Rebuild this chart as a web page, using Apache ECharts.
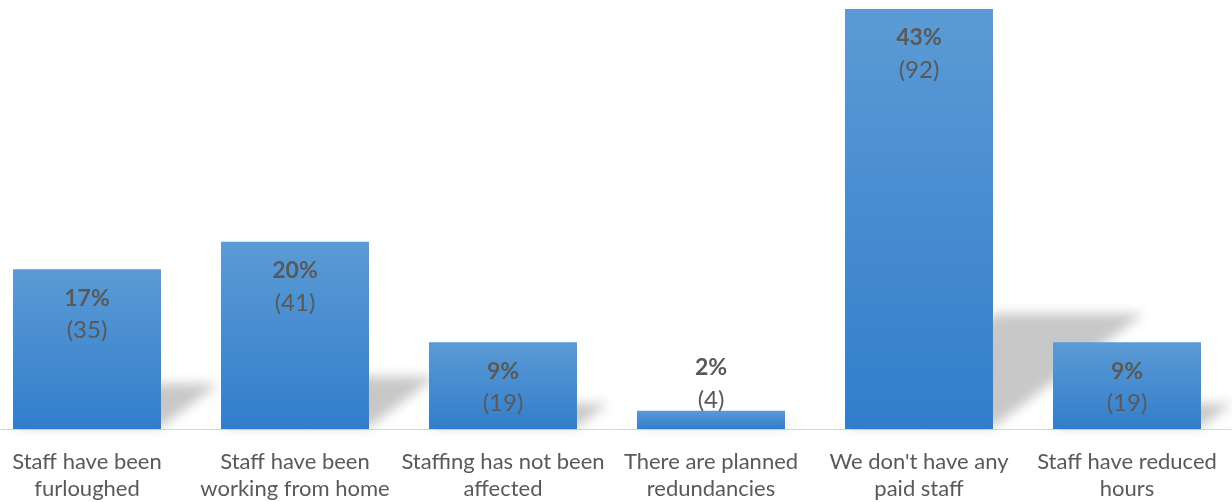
<!DOCTYPE html>
<html>
<head>
<meta charset="utf-8">
<script src="https://cdn.jsdelivr.net/npm/echarts@6/dist/echarts.min.js"></script>
<style>
  html, body { margin: 0; padding: 0; background: #fff; }
  #chart { width: 1232px; height: 502px; }
</style>
</head>
<body>
<div id="chart"></div>
<script>
// categories (two-line labels as in the original)
const categories = [
  'Staff have been\nfurloughed',
  'Staff have been\nworking from home',
  'Staffing has not been\naffected',
  'There are planned\nredundancies',
  "We don't have any\npaid staff",
  'Staff have reduced\nhours'
];
const counts = [35, 41, 19, 4, 92, 19];
const percents = ['17%', '20%', '9%', '2%', '43%', '9%'];

const chart = echarts.init(document.getElementById('chart'));
const textColor = '#595959';
const barRatio = 148 / 208;

// label sits inside the top of the bar, small bar gets it pushed above
const barData = counts.map((v, i) => {
  const item = { value: v };
  if (v < 10) {
    item.label = { position: 'insideBottom', distance: 13 };
  }
  return item;
});

// soft perspective shadow behind each bar
// the shape is drawn off canvas and only its blurred canvas shadow is moved back in
const OFF = 3000;
function renderShadow(params, api) {
  const idx = api.value(0);
  const top = api.coord([idx, api.value(1)]);
  const base = api.coord([idx, 0]);
  const w = api.size([1, 0])[0] * barRatio;
  const h = base[1] - top[1];
  const rise = h * 0.27;
  const shift = rise * 1.33;
  const x0 = top[0] - w / 2 + OFF, x1 = top[0] + w / 2 + OFF, y = base[1] - 2;
  return {
    type: 'polygon',
    shape: {
      points: [[x0, y], [x1, y], [x1 + shift, y - rise], [x0 + shift, y - rise]]
    },
    style: {
      fill: '#000',
      shadowBlur: 12,
      shadowOffsetX: -OFF,
      shadowOffsetY: 0,
      shadowColor: 'rgba(0,0,0,0.22)'
    }
  };
}

const option = {
  animation: false,
  grid: { left: -17, right: 1, top: 9, bottom: 73, outerBoundsMode: 'none' },
  xAxis: {
    type: 'category',
    data: categories,
    axisLine: { show: true, lineStyle: { color: '#d9d9d9', width: 1 } },
    axisTick: { show: false },
    axisLabel: {
      interval: 0,
      margin: 19,
      color: textColor,
      fontFamily: 'Lato',
      fontSize: 22,
      lineHeight: 27
    }
  },
  yAxis: {
    type: 'value',
    min: 0,
    max: 92,
    show: false,
    splitLine: { show: false }
  },
  series: [
    {
      type: 'custom',
      z: 1,
      silent: true,
      clip: false,
      renderItem: renderShadow,
      data: counts.map((v, i) => [i, v])
    },
    {
      type: 'bar',
      z: 2,
      barWidth: (barRatio * 100).toFixed(2) + '%',
      data: barData,
      itemStyle: {
        color: new echarts.graphic.LinearGradient(0, 0, 0, 1, [
          { offset: 0, color: '#5B9BD5' },
          { offset: 1, color: '#327DCB' }
        ])
      },
      label: {
        show: true,
        position: 'insideTop',
        distance: 13,
        formatter: p => '{a|' + percents[p.dataIndex] + '}\n{b|(' + counts[p.dataIndex] + ')}',
        rich: {
          a: { color: textColor, fontFamily: 'Lato', fontWeight: 'bold', fontSize: 23, lineHeight: 32, align: 'center' },
          b: { color: textColor, fontFamily: 'Lato', fontSize: 24, lineHeight: 32, align: 'center' }
        }
      }
    }
  ]
};

chart.setOption(option);
</script>
</body>
</html>
